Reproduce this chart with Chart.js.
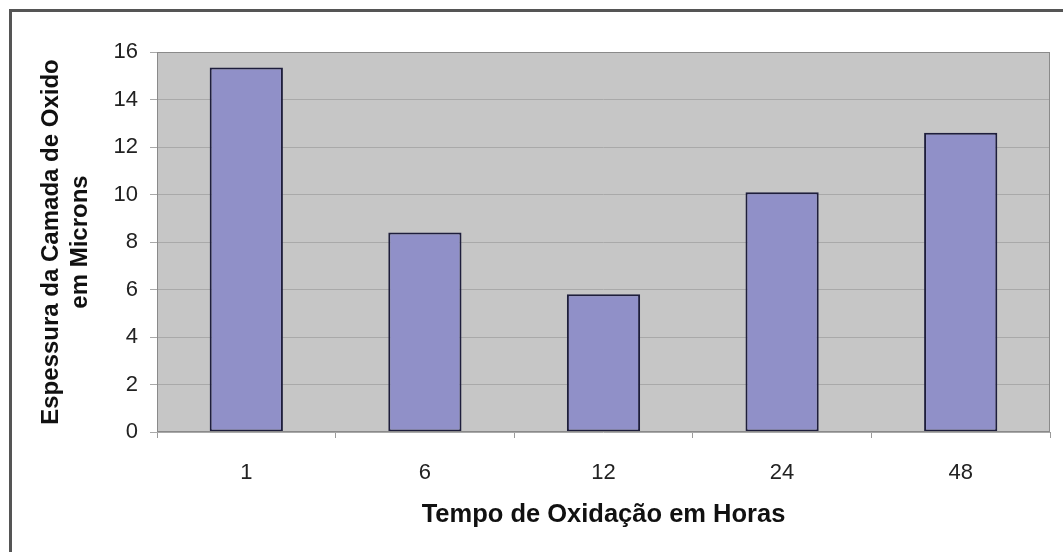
<!DOCTYPE html>
<html>
<head>
<meta charset="utf-8">
<script src="https://cdn.jsdelivr.net/npm/chart.js@4/dist/chart.umd.min.js"></script>
<style>
  html, body { margin: 0; padding: 0; background: #fff; overflow: hidden; }
  #wrap { position: relative; width: 1063px; height: 552px; }
  #frame { position: absolute; left: 9px; top: 9px; width: 1100px; height: 600px; border: 3px solid #555; box-sizing: border-box; }
  canvas { position: absolute; left: 0; top: 0; }
</style>
</head>
<body>
<div id="wrap">
  <div id="frame"></div>
  <canvas id="oxideChart" width="1063" height="552"></canvas>
</div>
<script>
// data
const hours = ['1', '6', '12', '24', '48'];
const thickness = [15.35, 8.4, 5.8, 10.1, 12.6];
const yTicks = [0, 2, 4, 6, 8, 10, 12, 14, 16];

// grey plot background like the old Excel charts
const plotBackground = {
    id: 'plotBackground',
    beforeDraw(chart) {
        const { ctx, chartArea: a } = chart;
        ctx.save();
        ctx.fillStyle = '#c6c6c6';
        ctx.fillRect(a.left, a.top, a.right - a.left, a.bottom - a.top);
        ctx.restore();
    },
    afterDatasetsDraw(chart) {
        const { ctx, chartArea: a } = chart;
        ctx.save();
        ctx.strokeStyle = '#8a8a8a';
        ctx.lineWidth = 1;
        ctx.strokeRect(a.left + 0.5, a.top + 0.5, a.right - a.left - 1, a.bottom - a.top - 1);
        ctx.restore();
    }
};

const ctx = document.getElementById('oxideChart').getContext('2d');
const oxideChart = new Chart(ctx, {
    type: 'bar',
    data: {
        labels: hours,
        datasets: [{
            label: 'Espessura',
            data: thickness,
            backgroundColor: '#9090c8',
            borderColor: '#1e1e3c',
            borderWidth: 2,
            borderSkipped: false,
            categoryPercentage: 1,
            barPercentage: 0.41
        }]
    },
    options: {
        responsive: false,
        animation: false,
        layout: { padding: { left: 0, top: 52, right: 13, bottom: 0 } },
        plugins: {
            legend: { display: false },
            tooltip: { enabled: false }
        },
        scales: {
            x: {
                afterFit(scale) { scale.height = 120; },
                grid: { drawOnChartArea: false, color: '#9a9a9a', tickLength: 6 },
                border: { display: false },
                ticks: { color: '#222', font: { family: 'Liberation Sans', size: 22 }, padding: 22 },
                title: {
                    display: true,
                    text: 'Tempo de Oxidação em Horas',
                    color: '#111',
                    font: { family: 'Liberation Sans', size: 25.5, weight: 'bold', lineHeight: 1.2 },
                    padding: { top: 0, bottom: 22 }
                }
            },
            y: {
                min: 0,
                max: 16,
                afterFit(scale) { scale.width = 157; },
                afterBuildTicks(scale) { scale.ticks = yTicks.map(v => ({ value: v })); },
                grid: { color: '#a9a9a9', tickLength: 7 },
                border: { display: false },
                ticks: { color: '#222', font: { family: 'Liberation Sans', size: 22 }, padding: 12 },
                title: {
                    display: true,
                    text: ['Espessura da Camada de Oxido', 'em Microns'],
                    color: '#111',
                    font: { family: 'Liberation Sans', size: 24, weight: 'bold', lineHeight: 1.21 },
                    padding: { top: 37, bottom: 0 }
                }
            }
        }
    },
    plugins: [plotBackground]
});
</script>
</body>
</html>
